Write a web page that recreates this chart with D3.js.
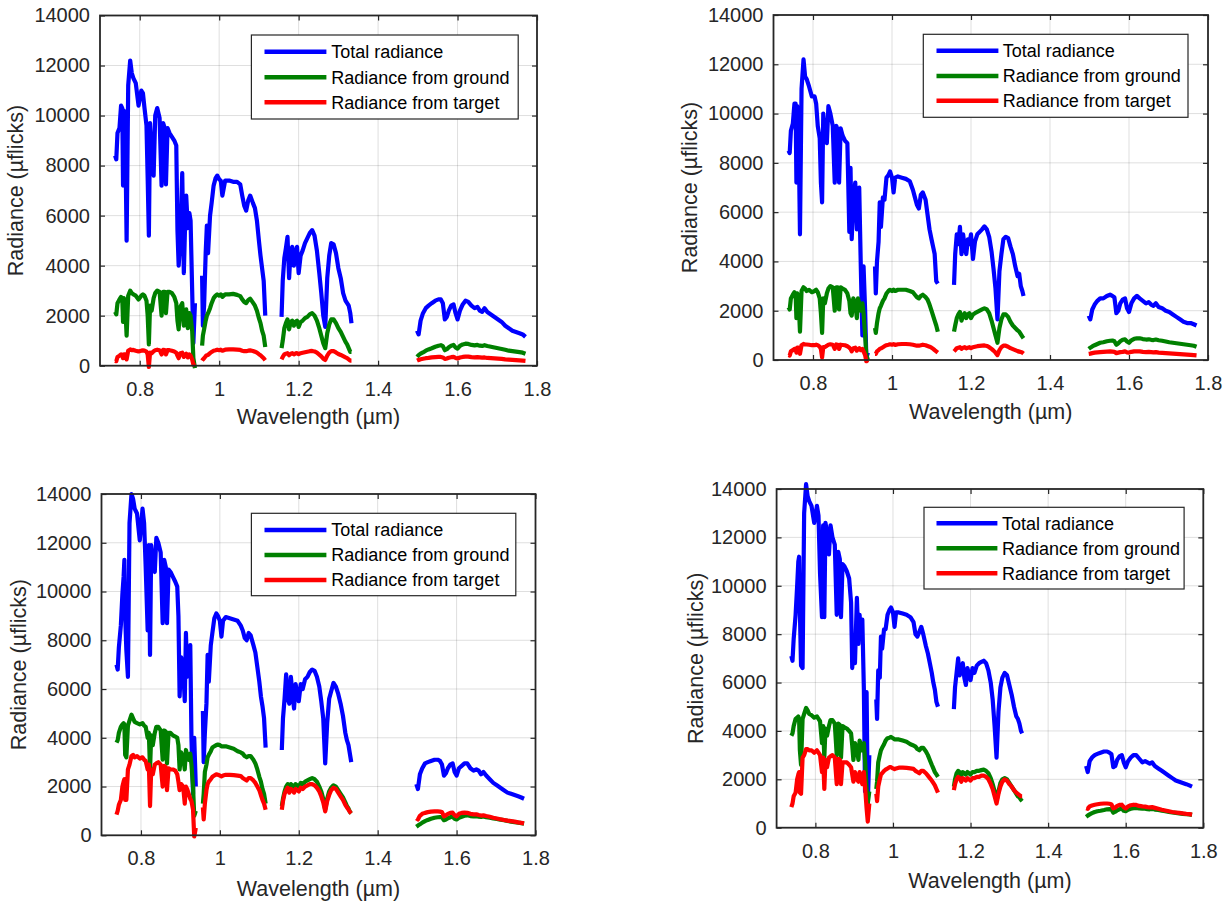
<!DOCTYPE html>
<html>
<head>
<meta charset="utf-8">
<script src="https://cdn.jsdelivr.net/npm/d3@7"></script>
<style>
  html, body { margin: 0; padding: 0; background: #fff; }
  svg { display: block; font-family: "Liberation Sans", Arial, Helvetica, sans-serif; }
</style>
</head>
<body>
<svg id="chart" width="1231" height="901"></svg>
<script>
// Wavelength grid (µm), one array per continuous band (water bands left out)
const wlA = [0.738, 0.741, 0.744, 0.749, 0.753, 0.756, 0.758, 0.760, 0.763, 0.767,
  0.771, 0.776, 0.780, 0.784, 0.790, 0.797, 0.804, 0.808, 0.812, 0.817,
  0.820, 0.823, 0.826, 0.830, 0.835, 0.839, 0.844, 0.850, 0.855, 0.859,
  0.863, 0.866, 0.870, 0.875, 0.881, 0.887, 0.892, 0.895, 0.898, 0.902,
  0.907, 0.911, 0.914, 0.917, 0.921, 0.925, 0.928, 0.932, 0.935, 0.939];
const wlB = [0.957, 0.959, 0.962, 0.966, 0.969, 0.972, 0.977, 0.981, 0.986, 0.991,
  0.995, 1.000, 1.004, 1.008, 1.015, 1.025, 1.035, 1.045, 1.053, 1.058,
  1.063, 1.068, 1.073, 1.078, 1.085, 1.090, 1.095, 1.100, 1.104, 1.108,
  1.112, 1.116];
const wlC = [1.157, 1.160, 1.164, 1.168, 1.172, 1.176, 1.180, 1.184, 1.188, 1.192,
  1.196, 1.200, 1.205, 1.210, 1.216, 1.222, 1.228, 1.234, 1.240, 1.246,
  1.252, 1.257, 1.262, 1.267, 1.272, 1.277, 1.282, 1.288, 1.294, 1.300,
  1.306, 1.312, 1.318, 1.322, 1.326, 1.330, 1.333];
const wlD = [1.498, 1.502, 1.507, 1.513, 1.520, 1.527, 1.535, 1.544, 1.552, 1.558,
  1.563, 1.568, 1.573, 1.578, 1.584, 1.590, 1.595, 1.600, 1.606, 1.613,
  1.620, 1.627, 1.635, 1.643, 1.650, 1.656, 1.662, 1.668, 1.675, 1.684,
  1.693, 1.702, 1.711, 1.720, 1.729, 1.738, 1.747, 1.756, 1.764, 1.771];

// Radiance (µflicks), bands A, B, C, D one after the other
// top-left panel
const totalTL = [
  8400, 8250, 9300, 9500, 10400, 10300, 7200, 10200, 10100, 5000,
  11200, 12200, 11700, 11500, 11300, 10400, 11000, 10900, 10300, 9600,
  7500, 5200, 9700, 8600, 7600, 10000, 10300, 9900, 7200, 9700,
  9500, 7250, 9500, 9300, 9150, 9000, 8800, 5400, 4000, 5000,
  7700, 3700, 5500, 6800, 5500, 6100, 5800, 3000, 900, 2500,
  3600, 1600, 2400, 4500, 5600, 4500, 6000, 6500, 7200, 7500,
  7600, 7450, 7400, 6800, 7400, 7400, 7350, 7350, 7250, 6800,
  6400, 6200, 6600, 6800, 6500, 6300, 5800, 5000, 4400, 3900,
  3400, 2000,
  1950, 3400, 4300, 4700, 5150, 3500, 4600, 4750, 4000, 4500,
  4750, 3700, 4400, 4600, 4900, 5100, 5300, 5420, 5200, 4600,
  3700, 2900, 2000, 1550, 3500, 4400, 4900, 4850, 4500, 3900,
  3500, 2900, 2600, 2500, 2400, 2100, 1700,
  1400, 1250, 1800, 2100, 2300, 2400, 2500, 2600, 2650, 2650,
  2500, 1850, 1950, 2200, 2400, 2450, 2100, 1850, 2200, 2450,
  2600, 2550, 2400, 2300, 2350, 2200, 2150, 2300, 2150, 2050,
  1950, 1850, 1750, 1600, 1500, 1400, 1350, 1300, 1250, 1150];
const groundTL = [
  2150, 2050, 2500, 2650, 2750, 2700, 1750, 2700, 2600, 1200,
  2800, 3000, 2900, 2850, 2800, 2650, 2800, 2850, 2800, 2600,
  2000, 850, 2400, 2200, 2700, 2900, 3000, 2950, 2000, 2950,
  2950, 2100, 2950, 2950, 2900, 2750, 2500, 1800, 1450, 2350,
  2500, 1600, 2000, 2250, 1500, 2100, 2000, 1400, 300, -100,
  800, 1200, 1450, 1800, 2000, 2100, 2300, 2500, 2700, 2800,
  2850, 2800, 2850, 2750, 2850, 2850, 2870, 2830, 2780, 2650,
  2550, 2500, 2620, 2680, 2520, 2400, 2200, 1900, 1700, 1400,
  1200, 750,
  700, 1000, 1500, 1700, 1850, 1450, 1750, 1800, 1600, 1750,
  1800, 1550, 1750, 1800, 1900, 1950, 2050, 2100, 2000, 1800,
  1500, 1200, 900, 700, 1300, 1650, 1850, 1850, 1700, 1500,
  1350, 1150, 950, 850, 700, 550, 550,
  350, 420, 480, 530, 600, 650, 700, 760, 800, 820,
  780, 620, 660, 740, 800, 830, 730, 680, 790, 850,
  880, 870, 830, 810, 830, 800, 790, 820, 790, 760,
  730, 700, 670, 640, 600, 580, 560, 540, 520, 480];
const targetTL = [
  200, 180, 350, 400, 450, 430, 300, 450, 450, 250,
  600, 650, 620, 630, 600, 570, 600, 610, 600, 560,
  450, -50, 520, 500, 580, 620, 640, 620, 450, 630,
  620, 450, 620, 620, 600, 570, 520, 400, 300, 500,
  520, 350, 430, 480, 330, 450, 400, 250, 50, 0,
  200, 250, 300, 380, 420, 430, 500, 550, 600, 620,
  640, 620, 640, 600, 640, 650, 650, 640, 630, 600,
  580, 580, 600, 610, 590, 560, 520, 460, 420, 360,
  300, 220,
  250, 350, 450, 480, 500, 420, 480, 500, 450, 490,
  500, 460, 500, 520, 540, 560, 580, 590, 570, 520,
  440, 370, 280, 230, 400, 520, 580, 580, 530, 470,
  430, 380, 330, 300, 250, 200, 200,
  200, 230, 260, 280, 300, 310, 330, 340, 350, 350,
  330, 270, 290, 320, 340, 350, 310, 290, 330, 350,
  360, 360, 340, 330, 340, 330, 320, 330, 310, 300,
  290, 280, 270, 250, 240, 230, 220, 210, 200, 190];

// top-right panel
const totalTR = [
  8500, 8400, 9300, 9600, 10400, 10400, 7200, 10300, 10000, 5100,
  11000, 12200, 11500, 11400, 11100, 10700, 10700, 10400, 9500, 9000,
  7200, 6400, 10000, 9200, 8800, 10300, 10000, 9500, 7200, 9500,
  9300, 7200, 9400, 9100, 8900, 8800, 5200, 7800, 4900, 6500,
  7200, 5300, 6500, 7000, 3800, 1000, 3800, 2000, 100, 300,
  3800, 2700, 4000, 4800, 6400, 5400, 6600, 6500, 7400, 7500,
  7650, 7400, 6800, 7400, 7450, 7400, 7350, 7250, 6900, 6600,
  6300, 6150, 6700, 6800, 6500, 5900, 5300, 4900, 4600, 4300,
  3200, 3100,
  3050, 4300, 5100, 4700, 5400, 4300, 5100, 4600, 4300, 4900,
  4700, 5100, 4100, 4800, 5100, 5200, 5300, 5420, 5300, 5000,
  4400, 3700, 2900, 1650, 3600, 4300, 4900, 5000, 4950, 4600,
  4300, 3800, 3400, 3500, 3000, 2800, 2600,
  1800, 1650, 2050, 2250, 2400, 2500, 2500, 2600, 2650, 2600,
  2550, 1900, 2000, 2300, 2450, 2500, 2100, 1950, 2300, 2500,
  2600, 2500, 2400, 2300, 2350, 2250, 2200, 2300, 2150, 2100,
  2000, 1950, 1850, 1750, 1650, 1550, 1500, 1500, 1450, 1400];
const groundTR = [
  2150, 2050, 2500, 2650, 2750, 2700, 1700, 2700, 2600, 1150,
  2800, 2950, 2900, 2800, 2850, 2750, 2800, 2850, 2750, 2500,
  1900, 1100, 2500, 2300, 2700, 2900, 3000, 2950, 2000, 2950,
  2950, 2050, 2950, 2900, 2850, 2700, 2400, 1900, 1800, 2500,
  2300, 1700, 2500, 2300, 2000, 2300, 1900, 1000, 200, 0,
  1300, 1100, 1500, 1900, 2100, 2200, 2400, 2500, 2700, 2800,
  2850, 2800, 2850, 2800, 2850, 2850, 2850, 2800, 2750, 2650,
  2550, 2500, 2600, 2650, 2550, 2450, 2250, 2000, 1800, 1600,
  1400, 1150,
  1150, 1400, 1700, 1850, 1950, 1600, 1800, 1900, 1700, 1850,
  1900, 1700, 1850, 1900, 1950, 2000, 2050, 2100, 2050, 1900,
  1600, 1300, 1000, 700, 1300, 1650, 1850, 1850, 1750, 1550,
  1400, 1300, 1200, 1150, 1050, 950, 880,
  450, 500, 550, 600, 650, 700, 720, 760, 780, 790,
  760, 620, 680, 760, 820, 840, 750, 700, 800, 860,
  880, 880, 850, 830, 840, 820, 810, 830, 800, 780,
  750, 720, 700, 680, 660, 640, 620, 600, 580, 540];
const targetTR = [
  200, 180, 350, 400, 450, 450, 300, 500, 500, 250,
  600, 650, 630, 630, 620, 600, 600, 620, 600, 540,
  450, 100, 520, 520, 580, 620, 640, 620, 450, 630,
  620, 450, 620, 610, 600, 560, 500, 450, 350, 480,
  500, 380, 450, 480, 400, 450, 350, 200, -50, 0,
  250, 250, 350, 400, 450, 470, 520, 560, 600, 620,
  640, 620, 640, 610, 640, 650, 650, 640, 620, 600,
  580, 580, 600, 620, 600, 570, 540, 500, 460, 400,
  350, 300,
  350, 400, 480, 500, 520, 450, 500, 520, 470, 500,
  520, 480, 520, 540, 560, 570, 580, 590, 570, 520,
  450, 380, 300, 200, 400, 520, 580, 580, 540, 480,
  440, 400, 360, 340, 320, 300, 260,
  250, 260, 280, 300, 310, 320, 330, 340, 350, 340,
  330, 280, 300, 320, 330, 350, 310, 300, 330, 350,
  350, 350, 330, 320, 330, 320, 310, 320, 300, 290,
  280, 270, 260, 250, 240, 230, 220, 210, 200, 190];

// bottom-left panel
const totalBL = [
  7000, 6800, 7700, 8600, 9900, 10600, 11300, 9000, 7600, 6500,
  12800, 14000, 13800, 13400, 13200, 12100, 13400, 12800, 11000, 8400,
  11900, 7400, 11900, 11300, 10800, 12200, 12000, 11600, 8700, 11300,
  11000, 8700, 10900, 10800, 10600, 10400, 10200, 9000, 5700, 7300,
  6800, 5500, 8300, 6500, 7000, 7800, 4000, 1700, 4000, 2000,
  5100, 3000, 4200, 5400, 7400, 6300, 7800, 8300, 8900, 9100,
  9000, 8800, 8150, 8800, 8950, 8900, 8850, 8800, 8600, 8400,
  8100, 8000, 8300, 8200, 7800, 7500, 6900, 6300, 5700, 5300,
  4800, 3600,
  3500, 4800, 5600, 6600, 5600, 5400, 6500, 5800, 5200, 6200,
  5800, 5500, 6200, 6000, 6400, 6500, 6700, 6800, 6750, 6500,
  6100, 5500, 4800, 2950, 4600, 5600, 5900, 6250, 6100, 5800,
  5400, 4900, 4200, 3900, 3700, 3300, 3000,
  2100, 1900, 2500, 2750, 2950, 3000, 3050, 3100, 3100, 3050,
  2900, 2450, 2550, 2750, 2900, 2950, 2600, 2450, 2750, 2850,
  2950, 2950, 2750, 2650, 2700, 2650, 2500, 2600, 2450, 2300,
  2150, 2050, 1950, 1850, 1750, 1700, 1650, 1600, 1550, 1500];
const groundBL = [
  3800, 3900, 4200, 4450, 4550, 4600, 4550, 3300, 3200, 4500,
  4700, 4950, 4800, 4650, 4600, 4550, 4600, 4500, 4450, 4000,
  4200, 2700, 4100, 3700, 4200, 4450, 4450, 4300, 3100, 4300,
  4250, 2950, 4200, 4200, 4100, 4050, 4000, 3700, 2700, 3400,
  3200, 2700, 3500, 3300, 3100, 3350, 2900, 2000, 800, 1000,
  1300, 1700, 2600, 2900, 3200, 3300, 3450, 3600, 3650, 3700,
  3720, 3700, 3650, 3650, 3650, 3600, 3550, 3450, 3400, 3350,
  3250, 3200, 3250, 3250, 3100, 2950, 2700, 2400, 2200, 1900,
  1700, 1300,
  1200, 1500, 1800, 2000, 2100, 1900, 2100, 2050, 1950, 2100,
  2050, 2000, 2150, 2100, 2200, 2250, 2300, 2350, 2300, 2200,
  2000, 1800, 1500, 1050, 1500, 1800, 1950, 2050, 2000, 1850,
  1700, 1550, 1350, 1200, 1100, 950, 900,
  350, 400, 450, 520, 580, 630, 680, 720, 740, 750,
  730, 620, 650, 700, 740, 770, 680, 650, 720, 760,
  800, 820, 790, 780, 780, 760, 750, 770, 740, 720,
  690, 670, 640, 620, 590, 560, 540, 520, 500, 480];
const targetBL = [
  850, 1000, 1250, 1450, 2000, 2200, 2300, 1450, 1450, 2700,
  2900, 3250, 3300, 3200, 3250, 3150, 3200, 3100, 3050, 2700,
  2900, 1200, 2700, 2500, 2900, 2950, 3000, 2900, 2000, 2850,
  2800, 1850, 2750, 2700, 2700, 2650, 2500, 2200, 1850, 2100,
  2000, 1300, 2000, 1900, 1700, 1500, 1400, 1050, -50, 300,
  1150, 650, 1300, 1850, 2100, 2200, 2300, 2400, 2450, 2500,
  2480, 2450, 2420, 2450, 2480, 2480, 2470, 2450, 2430, 2350,
  2300, 2250, 2350, 2350, 2250, 2150, 2000, 1850, 1650, 1450,
  1300, 1050,
  1050, 1400, 1700, 1850, 1950, 1750, 1900, 1850, 1750, 1900,
  1850, 1800, 1950, 1900, 2000, 2050, 2100, 2100, 2050, 1950,
  1800, 1600, 1350, 980, 1400, 1650, 1850, 1950, 1900, 1750,
  1600, 1450, 1250, 1150, 1050, 950, 900,
  700, 650, 800, 880, 920, 950, 970, 980, 980, 970,
  950, 780, 820, 880, 920, 930, 820, 780, 880, 920,
  930, 920, 880, 860, 860, 830, 810, 820, 790, 760,
  720, 690, 660, 630, 600, 580, 560, 530, 510, 490];

// bottom-right panel
const totalBR = [
  7100, 6900, 7800, 8800, 10000, 11000, 11200, 9000, 6700, 6600,
  13000, 14200, 13700, 13500, 13300, 12600, 13300, 12900, 10500, 8700,
  12500, 8700, 12600, 12200, 11300, 12500, 12000, 11700, 8800, 11400,
  11100, 8700, 10900, 10800, 10600, 10300, 9300, 6600, 7900, 6800,
  9500, 7600, 8800, 7800, 8600, 5700, 1500, 5600, 1000, 3000,
  5300, 4500, 6500, 6200, 7900, 7400, 8200, 8200, 8800, 9000,
  9100, 8900, 8300, 8900, 8900, 8850, 8800, 8700, 8500, 8000,
  7900, 8100, 8300, 8000, 7500, 7200, 6800, 6400, 6000, 5700,
  5200, 5000,
  4900, 5800, 6400, 7000, 6300, 6500, 6800, 6200, 5900, 6600,
  6300, 6100, 6600, 6400, 6700, 6800, 6850, 6900, 6800, 6500,
  6000, 5300, 4200, 2900, 4800, 5800, 6200, 6400, 6300, 5900,
  5500, 5000, 4600, 4500, 4300, 4000, 3900,
  2550, 2300, 2750, 2900, 3000, 3050, 3100, 3150, 3150, 3100,
  3050, 2500, 2550, 2800, 2950, 3000, 2700, 2500, 2750, 2900,
  3000, 3000, 2850, 2700, 2750, 2700, 2650, 2700, 2550, 2450,
  2350, 2250, 2150, 2050, 1950, 1900, 1850, 1800, 1750, 1700];
const groundBR = [
  3800, 3900, 4200, 4500, 4550, 4600, 4500, 3200, 2600, 4500,
  4700, 4950, 4850, 4700, 4650, 4550, 4600, 4500, 4400, 3500,
  4200, 2900, 4100, 3800, 4200, 4450, 4450, 4300, 3000, 4300,
  4250, 2900, 4200, 4150, 4100, 4000, 3900, 3400, 2800, 3500,
  3200, 2800, 3600, 3400, 3200, 3500, 2800, 1600, 1000, 1500,
  1600, 1900, 2700, 3000, 3200, 3300, 3450, 3600, 3700, 3720,
  3750, 3700, 3650, 3650, 3650, 3600, 3550, 3450, 3400, 3350,
  3250, 3200, 3300, 3300, 3150, 3000, 2800, 2600, 2450, 2300,
  2200, 2100,
  1700, 2000, 2250, 2350, 2300, 2150, 2300, 2250, 2200, 2300,
  2250, 2200, 2300, 2300, 2350, 2350, 2380, 2400, 2350, 2250,
  2050, 1800, 1500, 1100, 1500, 1850, 2000, 2050, 2000, 1850,
  1700, 1550, 1400, 1300, 1250, 1150, 1100,
  450, 500, 550, 600, 650, 680, 700, 730, 760, 770,
  760, 620, 660, 720, 760, 790, 700, 680, 740, 780,
  810, 820, 800, 790, 790, 770, 760, 780, 750, 730,
  700, 680, 650, 630, 610, 590, 570, 560, 550, 530];
const targetBR = [
  850, 1000, 1300, 1450, 2000, 2200, 2300, 1450, 1400, 2900,
  3000, 3250, 3250, 3200, 3200, 3100, 3200, 3100, 3000, 2300,
  2900, 1600, 2800, 2500, 2900, 2950, 3000, 2900, 1800, 2850,
  2800, 1800, 2700, 2700, 2700, 2600, 2500, 2200, 1900, 2300,
  2000, 1900, 2300, 2000, 1800, 2300, 1700, 800, 250, 1000,
  1400, 1100, 1700, 2000, 2200, 2250, 2350, 2400, 2450, 2500,
  2500, 2450, 2420, 2450, 2480, 2480, 2470, 2450, 2430, 2350,
  2300, 2250, 2350, 2350, 2250, 2150, 2050, 1950, 1850, 1750,
  1600, 1450,
  1550, 1800, 2000, 2100, 2050, 1900, 2050, 2000, 1950, 2050,
  2000, 1950, 2050, 2050, 2100, 2100, 2150, 2150, 2100, 2000,
  1800, 1600, 1300, 1000, 1400, 1700, 1900, 2000, 1950, 1800,
  1700, 1550, 1450, 1400, 1350, 1300, 1300,
  800, 780, 880, 920, 950, 970, 990, 1000, 1000, 990,
  970, 800, 830, 900, 940, 950, 850, 800, 880, 930,
  950, 940, 900, 880, 870, 850, 840, 850, 820, 780,
  740, 710, 680, 650, 630, 610, 590, 570, 560, 540];

const seriesNames = ["Total radiance", "Radiance from ground", "Radiance from target"];
const seriesColors = ["#0000ff", "#008000", "#ff0000"];
const xTicks = [0.8, 1, 1.2, 1.4, 1.6, 1.8];
const yTicks = [0, 2000, 4000, 6000, 8000, 10000, 12000, 14000];

// where each subplot sits in the 1231x901 figure
const panels = [
  { series: [totalTL, groundTL, targetTL],
    left: 100, top: 15.5, right: 537, bottom: 365.7,
    legend: { x: 251.4, y: 35, w: 266.8, h: 84, l1: 264.5, l2: 326.4, tx: 331.3, rows: [51.7, 77.3, 102.3] },
    yLabelX: 15.5, xLabelY: 416.7 },
  { series: [totalTR, groundTR, targetTR],
    left: 773.5, top: 15, right: 1208, bottom: 360,
    legend: { x: 923.3, y: 34.3, w: 264.7, h: 83, l1: 936.5, l2: 998.4, tx: 1002.7, rows: [50.7, 76, 100.7] },
    yLabelX: 689.7, xLabelY: 411.7 },
  { series: [totalBL, groundBL, targetBL],
    left: 101.5, top: 494, right: 535.5, bottom: 835.3,
    legend: { x: 251.4, y: 513.3, w: 264.4, h: 82.4, l1: 264.5, l2: 326.4, tx: 331.3, rows: [530, 555, 580] },
    yLabelX: 18.9, xLabelY: 888.3 },
  { series: [totalBR, groundBR, targetBR],
    left: 776.6, top: 489, right: 1203.3, bottom: 827.7,
    legend: { x: 924, y: 507.3, w: 260.1, h: 81.7, l1: 936.5, l2: 997.4, tx: 1002, rows: [523.3, 548.3, 573.3] },
    yLabelX: 695, xLabelY: 880 }
];

const bands = [wlA, wlB, wlC, wlD];
const nPoints = d3.sum(bands, b => b.length);

// split one flat value array into [wavelength, value] segments, one per band
function toSegments(values) {
  if (values.length !== nPoints) throw new Error("series length " + values.length + " != " + nPoints);
  let k = 0;
  return bands.map(b => b.map(w => [w, values[k++]]));
}

const svg = d3.select("#chart");
const ink = "#262626";

function drawPanel(p) {
  const x = d3.scaleLinear().domain([0.7, 1.8]).range([p.left, p.right]);
  const y = d3.scaleLinear().domain([0, 14000]).range([p.bottom, p.top]);
  const g = svg.append("g");

  // grid
  g.append("g").selectAll("line").data(xTicks.slice(0, -1)).join("line")
    .attr("x1", d => x(d)).attr("x2", d => x(d))
    .attr("y1", p.top).attr("y2", p.bottom)
    .attr("stroke", ink).attr("stroke-opacity", 0.15).attr("stroke-width", 1);
  g.append("g").selectAll("line").data(yTicks.slice(1, -1)).join("line")
    .attr("x1", p.left).attr("x2", p.right)
    .attr("y1", d => y(d)).attr("y2", d => y(d))
    .attr("stroke", ink).attr("stroke-opacity", 0.15).attr("stroke-width", 1);

  // data lines
  const line = d3.line().x(d => x(d[0])).y(d => y(d[1]));
  p.series.forEach((vals, i) => {
    g.append("g").selectAll("path").data(toSegments(vals)).join("path")
      .attr("d", line)
      .attr("fill", "none")
      .attr("stroke", seriesColors[i])
      .attr("stroke-width", 4.2)
      .attr("stroke-linejoin", "round");
  });

  // axes, ticks pointing inwards on all four sides
  const styleAxis = sel => {
    sel.select(".domain").remove();
    sel.selectAll(".tick line").attr("stroke", ink).attr("stroke-width", 1.2);
    sel.selectAll(".tick text").attr("fill", ink).style("font-size", "20px")
      .style("font-family", "'Liberation Sans', Arial, Helvetica, sans-serif");
  };
  g.append("g").attr("transform", `translate(0,${p.bottom})`)
    .call(d3.axisBottom(x).tickValues(xTicks).tickSize(-5).tickPadding(16).tickFormat(d => String(d)))
    .call(styleAxis);
  g.append("g").attr("transform", `translate(${p.left},0)`)
    .call(d3.axisLeft(y).tickValues(yTicks).tickSize(-5).tickPadding(10).tickFormat(d3.format("d")))
    .call(styleAxis);
  g.append("g").attr("transform", `translate(0,${p.top})`)
    .call(d3.axisTop(x).tickValues(xTicks).tickSize(-5).tickFormat(""))
    .call(styleAxis);
  g.append("g").attr("transform", `translate(${p.right},0)`)
    .call(d3.axisRight(y).tickValues(yTicks).tickSize(-5).tickFormat(""))
    .call(styleAxis);

  g.append("rect")
    .attr("x", p.left).attr("y", p.top)
    .attr("width", p.right - p.left).attr("height", p.bottom - p.top)
    .attr("fill", "none").attr("stroke", ink).attr("stroke-width", 1.8);

  // axis labels
  g.append("text")
    .attr("x", (p.left + p.right) / 2).attr("y", p.xLabelY).attr("dy", "0.35em")
    .attr("text-anchor", "middle").attr("fill", ink).style("font-size", "21.5px")
    .text("Wavelength (µm)");
  g.append("text")
    .attr("transform", `translate(${p.yLabelX},${(p.top + p.bottom) / 2}) rotate(-90)`)
    .attr("dy", "0.35em")
    .attr("text-anchor", "middle").attr("fill", ink).style("font-size", "21.5px")
    .text("Radiance (µflicks)");

  // legend
  const L = p.legend;
  const lg = g.append("g");
  lg.append("rect")
    .attr("x", L.x).attr("y", L.y).attr("width", L.w).attr("height", L.h)
    .attr("fill", "#fff").attr("stroke", ink).attr("stroke-width", 1.2);
  seriesNames.forEach((name, i) => {
    lg.append("line")
      .attr("x1", L.l1).attr("x2", L.l2).attr("y1", L.rows[i]).attr("y2", L.rows[i])
      .attr("stroke", seriesColors[i]).attr("stroke-width", 4.5);
    lg.append("text")
      .attr("x", L.tx).attr("y", L.rows[i]).attr("dy", "0.35em")
      .attr("fill", "#000").style("font-size", "18px")
      .text(name);
  });
}

panels.forEach(drawPanel);
</script>
</body>
</html>
